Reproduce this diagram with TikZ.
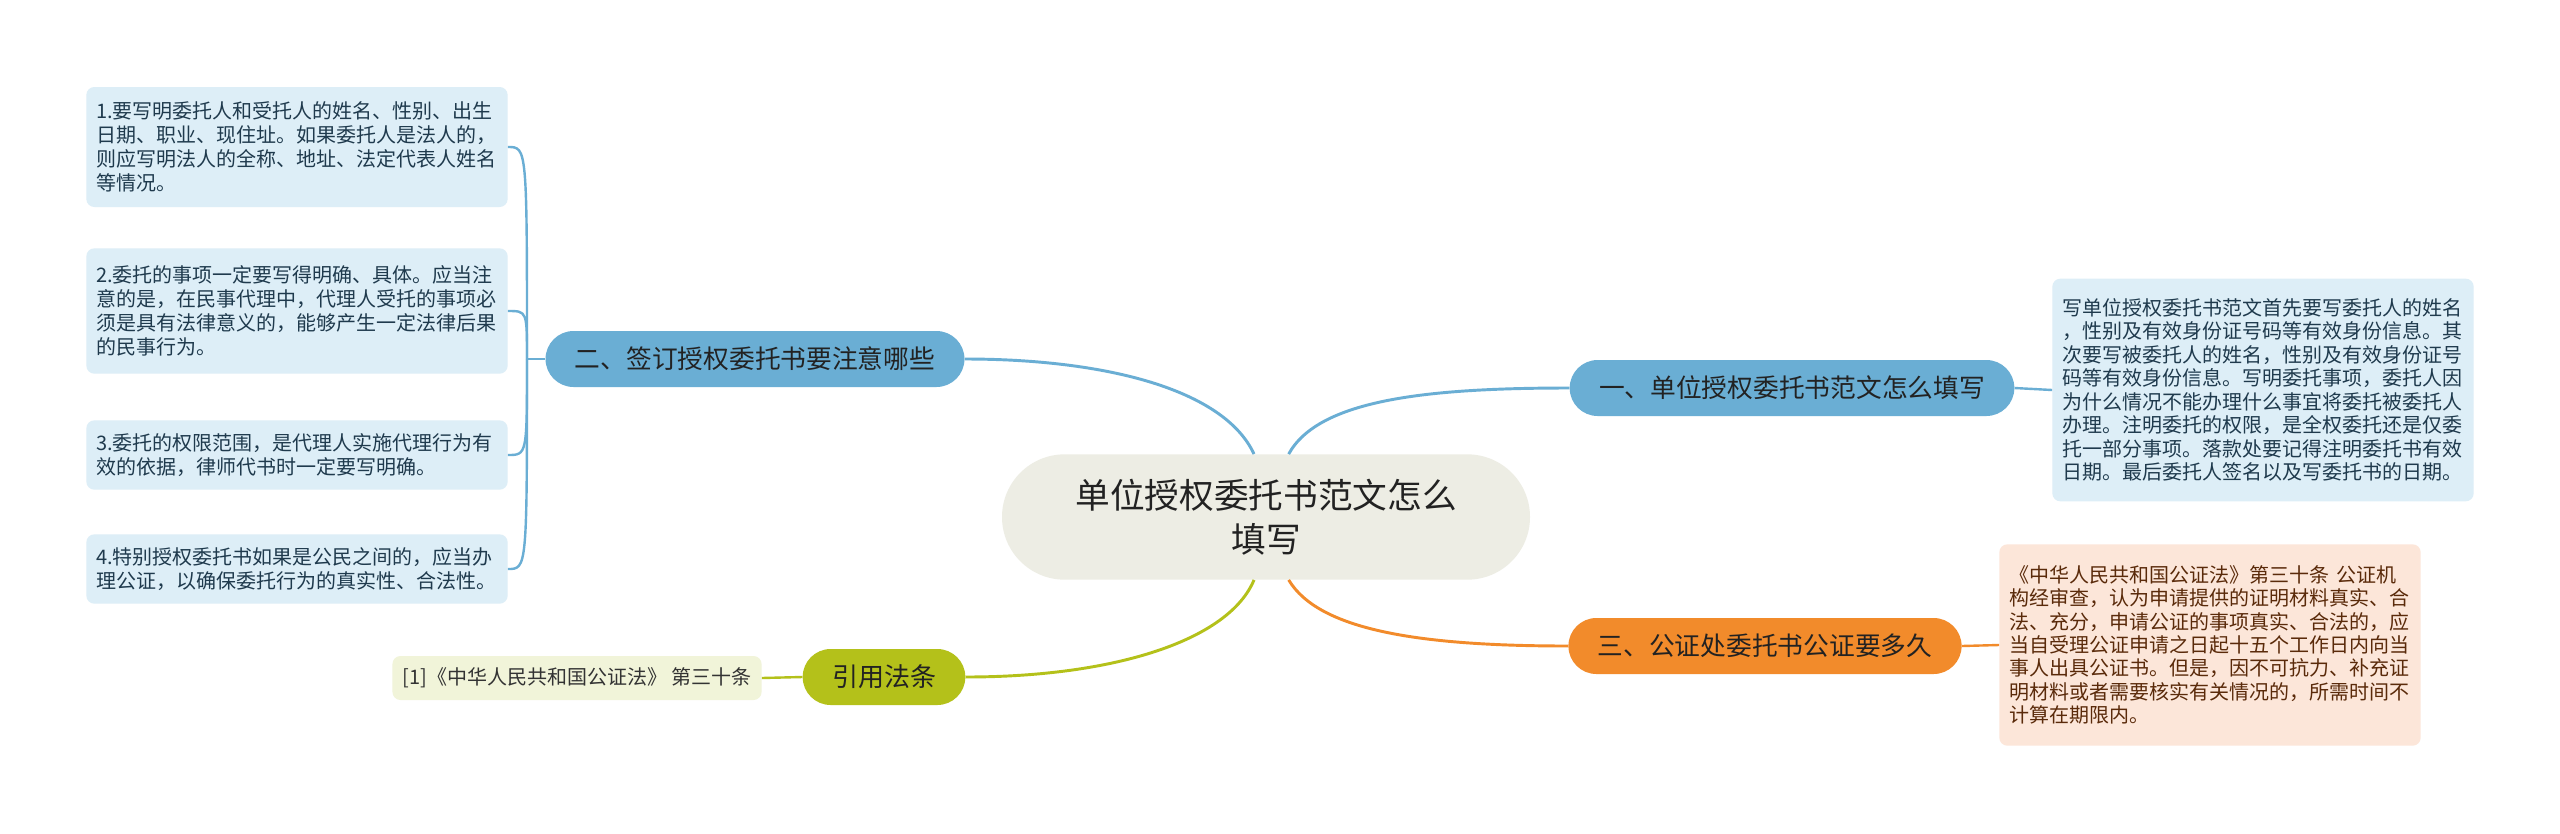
\documentclass[tikz,border=0pt]{standalone}
\usepackage{fontspec}
\setmainfont{Noto Sans CJK SC}
\usepackage{tikz}

\definecolor{rootfill}{HTML}{EDEDE4}
\definecolor{rootink}{HTML}{222222}
\definecolor{blueline}{HTML}{6AAED4}
\definecolor{bluenote}{HTML}{DDEEF7}
\definecolor{blueink}{HTML}{1F3A4D}
\definecolor{orangeline}{HTML}{F28B2B}
\definecolor{orangenote}{HTML}{FCE6D9}
\definecolor{orangeink}{HTML}{5A2A0A}
\definecolor{greenline}{HTML}{B4C11A}
\definecolor{greennote}{HTML}{F1F4D9}
\definecolor{greenink}{HTML}{333333}

\tikzset{
    root/.style={fill=rootfill, text=rootink, rounded corners=47pt, minimum width=396pt,
        minimum height=94pt, align=center, font=\fontsize{26}{33}\selectfont},
    topic/.style={rounded corners=21pt, minimum height=42pt, inner xsep=22pt,
        text=rootink, font=\fontsize{19.3}{23}\selectfont},
    note/.style={rounded corners=6pt, text width=301pt, inner xsep=7.5pt, align=left,
        font=\fontsize{15}{18}\selectfont},
    link/.style={line width=2.2pt},
    twig/.style={line width=1.8pt},
}

\begin{document}
\begin{tikzpicture}[x=0.75pt,y=-0.75pt]
        % canvas
        \useasboundingbox [fill=white] (0,0) rectangle (2560,833);
        % root
        \node [root] (cen) at (1266,517) {单位授权委托书范文怎么\\填写};
        % topic 1
        \node [topic,fill=blueline] (b1) at (1792,388) {一、单位授权委托书范文怎么填写};
        \node [note,fill=bluenote,text=blueink,minimum height=167pt,
            font=\fontsize{15}{17.6}\selectfont] (t1) at (2263,390)
            {写单位授权委托书范文首先要写委托人的姓名\\，性别及有效身份证号码等有效身份信息。其\\次要写被委托人的姓名，性别及有效身份证号\\码等有效身份信息。写明委托事项，委托人因\\为什么情况不能办理什么事宜将委托被委托人\\办理。注明委托的权限，是全权委托还是仅委\\托一部分事项。落款处要记得注明委托书有效\\日期。最后委托人签名以及写委托书的日期。};
        % topic 2
        \node [topic,fill=blueline] (b2) at (755,359) {二、签订授权委托书要注意哪些};
        \node [note,fill=bluenote,text=blueink,minimum height=90pt] (n1) at (297,147)
            {1.要写明委托人和受托人的姓名、性别、出生\\日期、职业、现住址。如果委托人是法人的，\\则应写明法人的全称、地址、法定代表人姓名\\等情况。};
        \node [note,fill=bluenote,text=blueink,minimum height=94pt] (n2) at (297,311)
            {2.委托的事项一定要写得明确、具体。应当注\\意的是，在民事代理中，代理人受托的事项必\\须是具有法律意义的，能够产生一定法律后果\\的民事行为。};
        \node [note,fill=bluenote,text=blueink,minimum height=52pt] (n3) at (297,455)
            {3.委托的权限范围，是代理人实施代理行为有\\效的依据，律师代书时一定要写明确。};
        \node [note,fill=bluenote,text=blueink,minimum height=52pt] (n4) at (297,569)
            {4.特别授权委托书如果是公民之间的，应当办\\理公证，以确保委托行为的真实性、合法性。};
        % topic 3
        \node [topic,fill=orangeline] (b3) at (1765,646) {三、公证处委托书公证要多久};
        \node [note,fill=orangenote,text=orangeink,minimum height=151pt,
            font=\fontsize{15}{17.5}\selectfont] (t3) at (2210,645)
            {《中华人民共和国公证法》第三十条 公证机\\构经审查，认为申请提供的证明材料真实、合\\法、充分，申请公证的事项真实、合法的，应\\当自受理公证申请之日起十五个工作日内向当\\事人出具公证书。但是，因不可抗力、补充证\\明材料或者需要核实有关情况的，所需时间不\\计算在期限内。};
        % topic 4
        \node [topic,fill=greenline,font=\fontsize{19.5}{23}\selectfont] (b4) at (884,677) {引用法条};
        \node [fill=greennote,text=greenink,rounded corners=6pt,inner xsep=7.5pt,
            minimum height=33pt,font=\fontsize{15}{18}\selectfont] (c4) at (577,678)
            {[1]《中华人民共和国公证法》 第三十条};
        % root links
        \draw [link,blueline] ([xshift=-9pt]cen.north) .. controls +(-30,-65) and +(140,0) .. (b2.east);
        \draw [link,blueline] ([xshift=17pt]cen.north) .. controls +(30,-55) and +(-140,0) .. (b1.west);
        \draw [link,greenline] ([xshift=-9pt]cen.south) .. controls +(-25,60) and +(150,0) .. (b4.east);
        \draw [link,orangeline] ([xshift=17pt]cen.south) .. controls +(30,50) and +(-150,0) .. (b3.west);
        % leaf links
        \draw [twig,blueline] (b1.east) -- (t1.west);
        \draw [twig,orangeline] (b3.east) -- (t3.west);
        \draw [twig,greenline] (b4.west) -- (c4.east);
        \coordinate (hub) at (527,359);
        \draw [twig,blueline] (b2.west) -- (hub);
        \foreach \leaf in {n1,n2,n3,n4}
            \draw [twig,blueline] (hub) .. controls (hub |- \leaf.east) .. (\leaf.east);
\end{tikzpicture}
\end{document}
